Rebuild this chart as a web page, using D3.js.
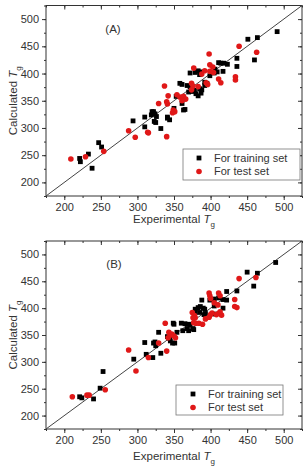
<!DOCTYPE html>
<html>
<head>
<meta charset="utf-8">
<script src="https://cdn.jsdelivr.net/npm/d3@7"></script>
<style>
  body { margin: 0; background: #fff; }
  svg text { font-family: "Liberation Sans", Arial, sans-serif; fill: #333; }
</style>
</head>
<body>
<svg width="305" height="466"></svg>
<script>
// tick values for both axes
var majorTicks = [200, 250, 300, 350, 400, 450, 500];
var minorTicks = [175, 200, 225, 250, 275, 300, 325, 350, 375, 400, 425, 450, 475, 500, 525];
var legendLabels = ["For training set", "For test set"];

// panel A : [experimental, calculated]
var trainA = [[491,477],[464,466],[451,463],[460,425],[436,428],[436,413],[423,417],[417,404],
  [411,420],[414,419],[418,419],[405,401],[399,396],[392,384],[406,408],[409,403],[372,401],
  [379,402],[383,405],[387,403],[385,398],[358,382],[361,380],[368,378],[372,376],[375,372],
  [378,369],[370,366],[374,367],[380,363],[385,372],[388,370],[392,378],[395,382],[383,359],
  [387,364],[361,345],[363,333],[365,334],[322,330],[324,326],[319,324],[326,321],[310,320],
  [323,312],[325,310],[341,320],[344,315],[294,313],[310,302],[332,299],[221,244],[222,238],
  [233,252],[238,226],[247,273],[251,265],[350,336],[353,358],[341,318],[320,330]];
var testA = [[439,450],[398,436],[399,416],[403,412],[377,410],[392,405],[399,404],[404,402],
  [388,399],[411,390],[414,383],[434,394],[434,388],[463,439],[337,377],[374,382],[376,377],
  [383,376],[394,383],[396,380],[342,359],[354,361],[358,357],[363,358],[366,353],[361,350],
  [329,345],[340,348],[341,344],[374,370],[349,333],[351,330],[348,328],[315,291],[340,284],
  [209,243],[229,247],[254,257],[288,295],[297,283],[314,292]];

// panel B
var trainB = [[489,485],[450,467],[464,465],[459,441],[436,432],[422,415],[417,416],[411,419],
  [405,417],[399,415],[422,431],[417,400],[405,404],[406,389],[388,415],[379,398],[383,401],
  [386,403],[390,400],[392,398],[379,392],[385,392],[393,390],[391,388],[360,372],[365,371],
  [370,370],[372,368],[376,362],[377,360],[368,362],[370,358],[362,358],[350,370],[329,355],
  [221,235],[224,233],[240,231],[249,251],[253,282],[295,305],[310,336],[322,335],[324,337],
  [312,314],[321,308],[325,330],[332,316],[341,347],[345,339],[344,344],[348,335],[351,335],
  [354,355],[349,372]];
var testB = [[439,455],[462,457],[433,416],[433,403],[436,401],[411,428],[413,423],[398,428],
  [399,423],[400,418],[405,410],[410,406],[411,390],[415,387],[413,393],[408,388],[375,392],
  [378,386],[379,382],[376,382],[377,373],[380,372],[384,372],[389,370],[393,380],[398,383],
  [400,388],[402,391],[338,372],[211,235],[231,238],[234,238],[256,248],[288,322],[298,283],
  [315,308],[329,335],[340,320],[342,345],[345,350],[347,352],[350,348],[352,345],[343,355]];

var svg = d3.select("svg");
var domain = [175, 525];

var drawPanel = function(p)
{
  var x = d3.scaleLinear().domain(domain).range([46, 302]);
  var y = d3.scaleLinear().domain(domain).range([p.bottom, p.top]);
  var g = svg.append("g");

  // minor + major ticks, outward on bottom/left, inward on top/right
  var addAxis = function(axis, tr, labels, ticks, size)
  {
    var a = axis.tickValues(ticks).tickSize(size).tickSizeOuter(0);
    if (!labels) a.tickFormat("");
    var ax = g.append("g").attr("transform", tr).call(a);
    ax.select(".domain").remove();
    ax.selectAll("line").attr("stroke", "#333");
    ax.selectAll("text").attr("font-size", "11px").attr("fill", "#333");
    return ax;
  };
  addAxis(d3.axisBottom(x), "translate(0," + p.bottom + ")", false, minorTicks, 2);
  addAxis(d3.axisBottom(x), "translate(0," + p.bottom + ")", true, majorTicks, 4);
  addAxis(d3.axisLeft(y), "translate(46,0)", false, minorTicks, 2);
  addAxis(d3.axisLeft(y), "translate(46,0)", true, majorTicks, 4);
  addAxis(d3.axisTop(x), "translate(0," + p.top + ")", false, minorTicks, -2);
  addAxis(d3.axisTop(x), "translate(0," + p.top + ")", false, majorTicks, -4);
  addAxis(d3.axisRight(y), "translate(302,0)", false, minorTicks, -2);
  addAxis(d3.axisRight(y), "translate(302,0)", false, majorTicks, -4);

  // frame
  g.append("rect")
    .attr("x", x(domain[0])).attr("y", y(domain[1]))
    .attr("width", x(domain[1]) - x(domain[0]))
    .attr("height", y(domain[0]) - y(domain[1]))
    .attr("fill", "none").attr("stroke", "#333").attr("stroke-width", 1);

  // y = x line
  g.append("line")
    .attr("x1", x(domain[0])).attr("y1", y(domain[0]))
    .attr("x2", x(domain[1])).attr("y2", y(domain[1]))
    .attr("stroke", "#444").attr("stroke-width", 1);

  g.selectAll(".train").data(p.train).enter().append("rect")
    .attr("x", function(d){ return x(d[0]) - 2.4; })
    .attr("y", function(d){ return y(d[1]) - 2.4; })
    .attr("width", 4.8).attr("height", 4.8)
    .attr("fill", "#000");

  g.selectAll(".test").data(p.test).enter().append("circle")
    .attr("cx", function(d){ return x(d[0]); })
    .attr("cy", function(d){ return y(d[1]); })
    .attr("r", 2.8)
    .attr("fill", "#e01818");

  g.append("text").attr("x", p.tagX).attr("y", y(domain[1]) + 27)
    .attr("text-anchor", "middle").attr("font-size", "11.5px").text(p.tag);

  // axis titles
  var xt = g.append("text").attr("x", 174).attr("y", p.bottom + p.titleGap)
    .attr("text-anchor", "middle").attr("font-size", "11.5px");
  xt.append("tspan").text("Experimental ");
  xt.append("tspan").attr("font-style", "italic").text("T");
  xt.append("tspan").attr("font-size", "8px").attr("dy", "4").text("g");

  var yt = g.append("text")
    .attr("transform", "translate(17," + ((p.top + p.bottom) / 2) + ") rotate(-90)")
    .attr("text-anchor", "middle").attr("font-size", "11.5px");
  yt.append("tspan").text("Calculated ");
  yt.append("tspan").attr("font-style", "italic").text("T");
  yt.append("tspan").attr("font-size", "8px").attr("dy", "4").text("g");

  // legend
  var L = p.legend;
  g.append("rect").attr("x", L.x).attr("y", L.y).attr("width", L.w).attr("height", L.h)
    .attr("fill", "#fff").attr("stroke", "#777").attr("stroke-width", 0.8);
  g.append("rect").attr("x", L.mx - 2.4).attr("y", L.y + 9 - 2.4)
    .attr("width", 4.8).attr("height", 4.8).attr("fill", "#000");
  g.append("circle").attr("cx", L.mx).attr("cy", L.y + 22.5).attr("r", 2.8).attr("fill", "#e01818");
  legendLabels.forEach(function(t, i)
  {
    g.append("text").attr("x", L.mx + 15).attr("y", L.y + 9 + i * 13.5)
      .attr("dy", "0.35em").attr("font-size", "11px").text(t);
  });
};

drawPanel({ top: 5.5, bottom: 196, train: trainA, test: testA, tag: "(A)", tagX: 113,
  titleGap: 27, legend: { x: 183, y: 149, w: 117, h: 31, mx: 199 } });
drawPanel({ top: 241, bottom: 429, train: trainB, test: testB, tag: "(B)", tagX: 114,
  titleGap: 31, legend: { x: 176, y: 385, w: 107, h: 30, mx: 193 } });
</script>
</body>
</html>
